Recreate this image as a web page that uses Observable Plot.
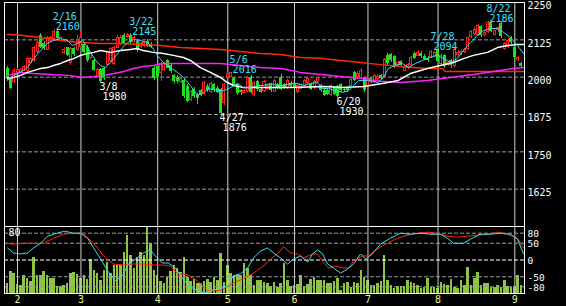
<!DOCTYPE html>
<html><head><meta charset="utf-8">
<script src="https://cdn.jsdelivr.net/npm/d3@7"></script>
<script src="https://cdn.jsdelivr.net/npm/@observablehq/plot@0.6"></script>
<style>
html,body{margin:0;padding:0;background:#000;}
#chart{position:relative;width:566px;height:306px;background:#000;overflow:hidden;}
#chart svg{position:absolute;left:0;top:0;}
</style></head><body><div id="chart"></div>
<script>
// ---- daily candles (trading-day index 0..154) ----
const open = [2029,1996,1985,2015,2018,2022,2020,2048,2055,2085,
2140,2112,2092,2120,2128,2152,2122,2080,2098,2046,
2095,2090,2100,2110,2100,2065,2056,2000,2025,2028,
2040,2055,2045,2098,2110,2140,2135,2140,2118,2118,
2100,2105,2118,2110,2030,2035,2015,2025,2056,2038,
2006,2000,1985,1990,1970,1925,1960,1940,1955,1945,
1970,1950,1975,1962,1960,1915,2000,2002,1995,1975,
1955,1948,1955,2000,1940,1985,1960,1955,1960,1975,
1952,1975,2000,1975,1965,1980,1975,1950,1962,1970,
1980,1975,1965,1985,1972,1955,1955,1940,1965,1968,
1975,1960,1962,1972,2015,2000,1998,1998,1972,1995,
1985,1995,2005,2000,2072,2075,2068,2040,2052,2022,
2030,2040,2078,2072,2080,2070,2062,2068,2072,2088,
2045,2072,2040,2055,2038,2075,2078,2085,2095,2135,
2145,2140,2168,2140,2150,2182,2142,2158,2180,2095,
2100,2130,2100,2058,2045];
const high = [2035,2000,2030,2030,2028,2040,2066,2065,2102,2125,
2145,2118,2135,2136,2160,2158,2135,2098,2100,2098,
2098,2140,2150,2115,2105,2082,2060,2030,2030,2032,
2085,2100,2102,2140,2138,2145,2145,2145,2140,2122,
2115,2120,2125,2115,2035,2040,2048,2050,2060,2042,
2010,2005,2000,1995,1975,1955,1965,1945,1960,1985,
1975,1982,1980,1968,1962,1980,2015,2016,2000,1978,
1960,1960,2002,2005,1985,1990,1965,1990,1975,1980,
1992,1980,2010,1980,1992,1985,1980,1975,1980,1992,
2000,1980,1990,2000,1975,1960,1960,1975,1968,1972,
1978,1965,1968,1998,2020,2018,2028,2000,2000,2000,
2010,2008,2010,2062,2078,2080,2072,2052,2056,2040,
2045,2070,2082,2088,2085,2075,2068,2090,2085,2094,
2078,2075,2052,2060,2096,2088,2090,2096,2134,2155,
2165,2178,2172,2155,2185,2185,2160,2170,2186,2115,
2128,2135,2105,2068,2048];
const low = [1990,1958,1980,2010,2012,2018,2016,2045,2050,2080,
2095,2090,2088,2115,2122,2122,2118,2075,2068,2040,
2070,2085,2095,2078,2050,2060,2018,1995,1980,1990,
2035,2050,2040,2095,2105,2108,2130,2110,2112,2082,
2095,2100,2098,2095,1990,1995,1985,2020,2028,2012,
1980,1980,1980,1930,1915,1920,1930,1910,1935,1940,
1950,1945,1950,1945,1876,1905,1995,1998,1968,1940,
1940,1945,1950,1945,1935,1952,1945,1950,1955,1950,
1948,1960,1955,1960,1960,1962,1960,1945,1958,1965,
1975,1955,1960,1980,1950,1935,1938,1935,1938,1930,
1950,1948,1950,1968,1985,1995,1992,1950,1968,1980,
1980,1990,1990,1995,2040,2050,2030,2035,2032,2018,
2025,2035,2058,2068,2062,2055,2050,2062,2068,2048,
2040,2030,2035,2030,2032,2070,2072,2080,2090,2130,
2140,2135,2132,2135,2145,2148,2138,2150,2130,2090,
2095,2110,2060,2052,2030];
const close = [1996,1962,2022,2025,2025,2035,2062,2060,2098,2115,
2100,2095,2130,2130,2150,2128,2130,2092,2072,2095,
2075,2122,2130,2082,2056,2078,2022,2025,1985,1998,
2080,2095,2098,2132,2130,2112,2142,2115,2132,2088,
2110,2115,2102,2100,1996,2000,2045,2045,2030,2018,
1985,1985,1995,1935,1920,1950,1935,1930,1940,1980,
1955,1978,1955,1950,1880,1975,2012,2014,1972,1945,
1948,1955,1998,1950,1980,1958,1950,1985,1970,1955,
1988,1965,1958,1965,1988,1968,1965,1972,1975,1988,
1995,1958,1985,1995,1955,1940,1942,1972,1942,1935,
1955,1955,1955,1992,1990,2012,2022,1955,1995,1985,
2005,2002,1995,2056,2045,2055,2035,2048,2038,2035,
2040,2065,2062,2082,2068,2060,2055,2085,2080,2052,
2072,2035,2048,2038,2092,2082,2085,2092,2130,2150,
2158,2172,2138,2148,2180,2152,2155,2165,2135,2110,
2122,2115,2065,2065,2035];
const volume = [10,22,20,9,8,18,15,12,36,18,
18,22,18,15,15,7,7,8,10,20,
21,19,15,18,14,34,23,20,13,23,
31,20,28,28,28,41,58,38,25,36,
41,38,66,50,23,18,12,10,16,22,
28,25,21,36,16,12,14,10,10,12,
14,11,16,13,40,11,28,20,18,18,
18,30,25,18,8,13,13,11,10,7,
11,6,10,30,13,7,8,9,18,7,
9,14,16,13,13,13,10,10,12,15,
3,10,11,6,11,10,23,16,13,8,
8,10,12,38,13,8,5,7,7,7,
13,11,10,8,5,6,15,6,6,5,
11,9,8,14,6,5,13,8,26,8,
15,21,8,10,10,6,6,8,6,13,
7,6,7,18,8];

// ---- moving averages (index, value) ----
const maShortIdx = [0,1.8,3.9,6,7.8,9.9,12,13.8,15.9,18,19.5,21,22.5,24,24.9,26.4,27.9,29.4,30.9,33,34.5,36,37.7,39.8,41.9,43.4,44.9,46.7,48.8,50.9,52.7,54.8,56.9,58.4,60.2,62.9,64.7,66.8,68.9,70.7,72.8,74.9,76.7,78.8,80.9,82.7,84.8,86.9,88.7,90.8,92.9,94.4,96.2,98.3,100.4,102.2,103.7,105.2,107.3,109.3,111.1,112.6,114.1,116.2,118.3,120.1,122.2,124.3,126.7,128.8,130.6,132.7,134.8,136.6,138.7,140.8,142.6,144.7,146.8,148.6,150.7,152.8,154.6];
const maShortVal = [1989,2006,2016,2032,2062,2089,2113,2123,2129,2123,2106,2113,2123,2099,2083,2056,2039,2032,2049,2079,2099,2116,2126,2123,2116,2099,2073,2049,2032,2016,1999,1972,1939,1945,1962,1955,1955,1965,1979,1965,1965,1972,1972,1979,1972,1972,1979,1979,1972,1979,1982,1962,1962,1955,1949,1955,1972,1989,1989,1986,1982,1999,2029,2039,2046,2032,2046,2056,2066,2073,2063,2049,2063,2089,2116,2140,2156,2163,2163,2150,2133,2106,2079];
const maMidIdx = [0,1.8,3.9,6,7.8,9.9,12,13.8,15.9,18,19.8,21.9,24,25.8,27.9,30.9,33.9,36.8,38.9,40.7,43.7,46.7,49.7,52.7,54.8,57.8,60.8,63.8,65.9,67.7,70.7,76,85,95,100.4,106.7,112.3,117.1,120.7,125.8,129.7,133.6,136.6,139.6,143.8,146.8,149.8,152.8,154.6];
const maMidVal = [1996,1999,2006,2016,2022,2029,2032,2039,2046,2056,2062,2073,2079,2083,2089,2083,2089,2093,2096,2089,2083,2079,2073,2066,2056,2032,2016,1999,1982,1972,1965,1965,1965,1969,1965,1969,1979,1989,2012,2029,2039,2049,2062,2073,2083,2099,2106,2109,2109];
const maLongIdx = [0,3.9,7.8,12.9,18,22.8,25.8,28.8,31.8,34.8,37.7,40.7,43.7,46.7,50.9,57.8,63.8,69.8,75.8,81.8,87.8,93.8,99.8,105.8,111.7,117.7,125.8,132.7,139.6,145.6,151.6,154.6];
const maLongVal = [2006,2016,2012,2009,2006,1999,2002,2006,2012,2019,2029,2036,2039,2046,2046,2046,2046,2039,2032,2029,2016,2009,2002,1996,1986,1982,1989,1999,2009,2019,2029,2032];
const maYearIdx = [0,3.9,9.9,15.9,21.9,27.9,33.9,39.8,45.8,51.8,57.8,63.8,69.8,75.8,81.8,87.8,93.8,99.8,105.8,111.7,117.7,125.8,130.4,131.2,154.6];
const maYearVal = [2143,2140,2133,2123,2116,2113,2113,2109,2106,2099,2096,2093,2086,2079,2076,2066,2063,2056,2049,2042,2036,2029,2028,2019,2019];

// ---- oscillators (index, value) ----
const oscCyanIdx = [0,1.8,3.9,6,7.8,9.9,12,13.8,15.9,17.4,19.5,21.9,24,25.8,27.9,30,32.4,34.5,36.2,38.9,40.7,42.8,44.3,46.4,48.2,50.3,52.4,54.2,56.9,59.3,61.7,63.8,65.9,67.7,69.8,71.9,73.7,75.8,77.9,79.7,81.8,83.9,85.7,87.8,89.9,91.4,92.9,94.4,95.9,97.7,99.8,101.9,103.7,105.8,107.3,109.3,111.7,114.7,117.7,120.7,123.7,126.7,129.7,131.8,133.6,136.6,138.7,141.7,144.7,147.7,150.7,152.8,154.6];
const oscCyanVal = [36,21,18,21,36,50,71,77,83,86,80,80,65,36,3,-33,-62,-47,-12,6,21,30,12,-9,-9,-24,-53,-77,-92,-98,-89,-86,-77,-47,-41,-24,6,27,36,21,6,-12,3,12,-6,18,30,18,-12,-24,-39,-27,-12,18,3,18,47,65,80,77,80,77,77,65,50,50,62,77,77,80,77,62,18];
const oscRedIdx = [0,1.8,4.8,7.8,10.8,13.8,16.8,19.8,22.8,25.8,28.8,31.8,34.8,37.7,40.7,43.7,46.7,48.8,50.9,53.9,56.9,59.9,62.9,64.7,67.7,70.7,73.7,76.7,78.8,81.2,82.7,84.8,86.9,88.7,91.4,92.9,94.4,96.2,98.3,100.4,102.2,103.7,106.4,108.1,110.8,113.8,116.8,119.8,122.8,125.8,128.8,131.8,134.8,137.8,140.8,143.8,146.8,149.8,152.8,154.6];
const oscRedVal = [50,47,50,50,50,65,77,80,77,50,12,-12,-15,-12,-12,-15,-15,-18,-41,-44,-62,-92,-92,-86,-68,-56,-39,-18,3,21,40,21,18,6,18,18,-3,-24,-18,-24,-24,-3,12,12,33,50,65,74,80,83,80,71,68,71,74,77,83,77,65,36];

// ---- axes / labels ----
const monthTickIdx = [3,22,45,66,86,108,129,152];
const monthLabels = ["2","3","4","5","6","7","8","9"];
const priceTicks = [2250,2125,2000,1875,1750,1625];
const oscTicks = [80,50,0,-50,-80];
const annDates = ["2/16","3/8","3/22","4/27","5/6","6/20","7/28","8/22"];
const annIdx = [14,28,36,64,67,99,129,148];
const annPrice = [2160,1980,2145,1876,2016,1930,2094,2186];
const annIsHigh = [true,false,true,false,true,false,true,true];

// ---- rendering ----
const W = 566, H = 306;
const FONT = "'DejaVu Sans Mono', monospace";
const FS = 10;
const UP = "#ff2020", DOWN = "#20e020", CYAN = "#38e0ff";
const base = (extra) => Object.assign({
  width: W, height: H, marginLeft: 4, marginRight: 42,
  x: {type: "linear", domain: [-0.9, 154.9], axis: null}
}, extra);
const pts = (xs, ys) => xs.map((x, k) => ({x, y: ys[k]}));

const candles = open.map((o, i) => ({i, o, h: high[i], l: low[i], c: close[i]}));
const ups = candles.filter(d => d.c >= d.o), downs = candles.filter(d => d.c < d.o);

const nudge = {"3/22": 3, "7/28": -6, "8/22": -13.5};
const annMarks = annDates.flatMap((lab, k) => {
  const d = [{i: annIdx[k], p: annPrice[k], t: lab, v: String(annPrice[k])}];
  const dx = -1.5 + (nudge[lab] || 0);
  const hi = annIsHigh[k];
  const fill = hi ? CYAN : "#fff";
  const dyDate = hi ? -12.5 : 4, dyVal = hi ? -2.5 : 14;
  return [
    Plot.text(d, {x: "i", y: "p", text: "t", dx, dy: dyDate, textAnchor: "start", lineAnchor: "middle", fill, fontSize: FS}),
    Plot.text(d, {x: "i", y: "p", text: "v", dx: dx + 3, dy: dyVal, textAnchor: "start", lineAnchor: "middle", fill, fontSize: FS})
  ];
});

const plot1 = Plot.plot(base({
  marginTop: 2, marginBottom: 80,
  style: {background: "#000", color: "#fff", fontFamily: FONT, fontSize: FS + "px", overflow: "visible"},
  y: {domain: [1500, 2250], axis: null},
  marks: [
    Plot.ruleX(monthTickIdx, {stroke: "#d0d0d0"}),
    Plot.ruleY(priceTicks.filter(t => t < 2250), {stroke: "#9a9a9a", strokeDasharray: "4,2"}),
    Plot.ruleX(downs, {x: "i", y1: "l", y2: "h", stroke: DOWN, shapeRendering: "crispEdges"}),
    Plot.ruleX(ups, {x: "i", y1: "l", y2: "h", stroke: UP, shapeRendering: "crispEdges"}),
    Plot.rect(downs, {x1: d => d.i - 0.45, x2: d => d.i + 0.45, y1: "o", y2: "c", fill: DOWN, shapeRendering: "crispEdges"}),
    Plot.rect(ups, {x1: d => d.i - 0.3, x2: d => d.i + 0.3, y1: "o", y2: "c", fill: "#000", stroke: UP, shapeRendering: "crispEdges"}),
    Plot.line(pts(maYearIdx, maYearVal), {x: "x", y: "y", stroke: "#ff2a00", strokeWidth: 1.5}),
    Plot.line(pts(maLongIdx, maLongVal), {x: "x", y: "y", stroke: "#ff20ff", strokeWidth: 1.5}),
    Plot.line(pts(maMidIdx, maMidVal), {x: "x", y: "y", stroke: "#ffffff", strokeWidth: 1.5}),
    Plot.line(pts(maShortIdx, maShortVal), {x: "x", y: "y", stroke: CYAN, strokeWidth: 1}),
    Plot.frame({stroke: "#fff"}),
    Plot.axisY({anchor: "right", ticks: priceTicks, tickSize: 0, tickPadding: 3, tickFormat: d => String(d), label: null, fill: "#fff", dy: 3.5, fontSize: FS}),
    ...annMarks
  ]
}));

const plot3 = Plot.plot(base({
  marginTop: 226, marginBottom: 13,
  style: {background: "transparent", overflow: "visible"},
  y: {domain: [0, 67], axis: null},
  marks: [
    Plot.rect(volume.map((v, i) => ({i, v})), {x1: d => d.i - 0.38, x2: d => d.i + 0.38, y1: 0, y2: "v", fill: "#8cc63e", shapeRendering: "crispEdges"})
  ]
}));

const plot2 = Plot.plot(base({
  marginTop: 226, marginBottom: 13,
  style: {background: "transparent", color: "#fff", fontFamily: FONT, fontSize: FS + "px", overflow: "visible"},
  y: {domain: [-100, 100], axis: null},
  marks: [
    Plot.ruleX(monthTickIdx, {stroke: "#d0d0d0"}),
    Plot.ruleY(oscTicks.filter(t => t !== 0), {stroke: "#9a9a9a", strokeDasharray: "4,2"}),
    Plot.ruleY([0], {stroke: "#fff", strokeDasharray: "4,2"}),
    Plot.line(pts(oscRedIdx, oscRedVal), {x: "x", y: "y", stroke: "#ff2a00", strokeWidth: 1}),
    Plot.line(pts(oscCyanIdx, oscCyanVal), {x: "x", y: "y", stroke: CYAN, strokeWidth: 1}),
    Plot.frame({stroke: "#fff"}),
    Plot.axisY({anchor: "right", ticks: oscTicks, tickSize: 0, tickPadding: 3, tickFormat: d => String(d), label: null, fill: "#fff", dy: 1, fontSize: 9.5}),
    Plot.text(monthLabels, {x: monthTickIdx, text: d => d, frameAnchor: "bottom", dy: 6, lineAnchor: "middle", fill: "#f2f08a", fontSize: FS}),
    Plot.text(["80"], {text: d => d, frameAnchor: "top-left", dx: 4, dy: 6, textAnchor: "start", lineAnchor: "middle", fill: "#fff", fontSize: FS})
  ]
}));

const root = document.getElementById("chart");
root.appendChild(plot1);
root.appendChild(plot3);
root.appendChild(plot2);
</script>
</body></html>
